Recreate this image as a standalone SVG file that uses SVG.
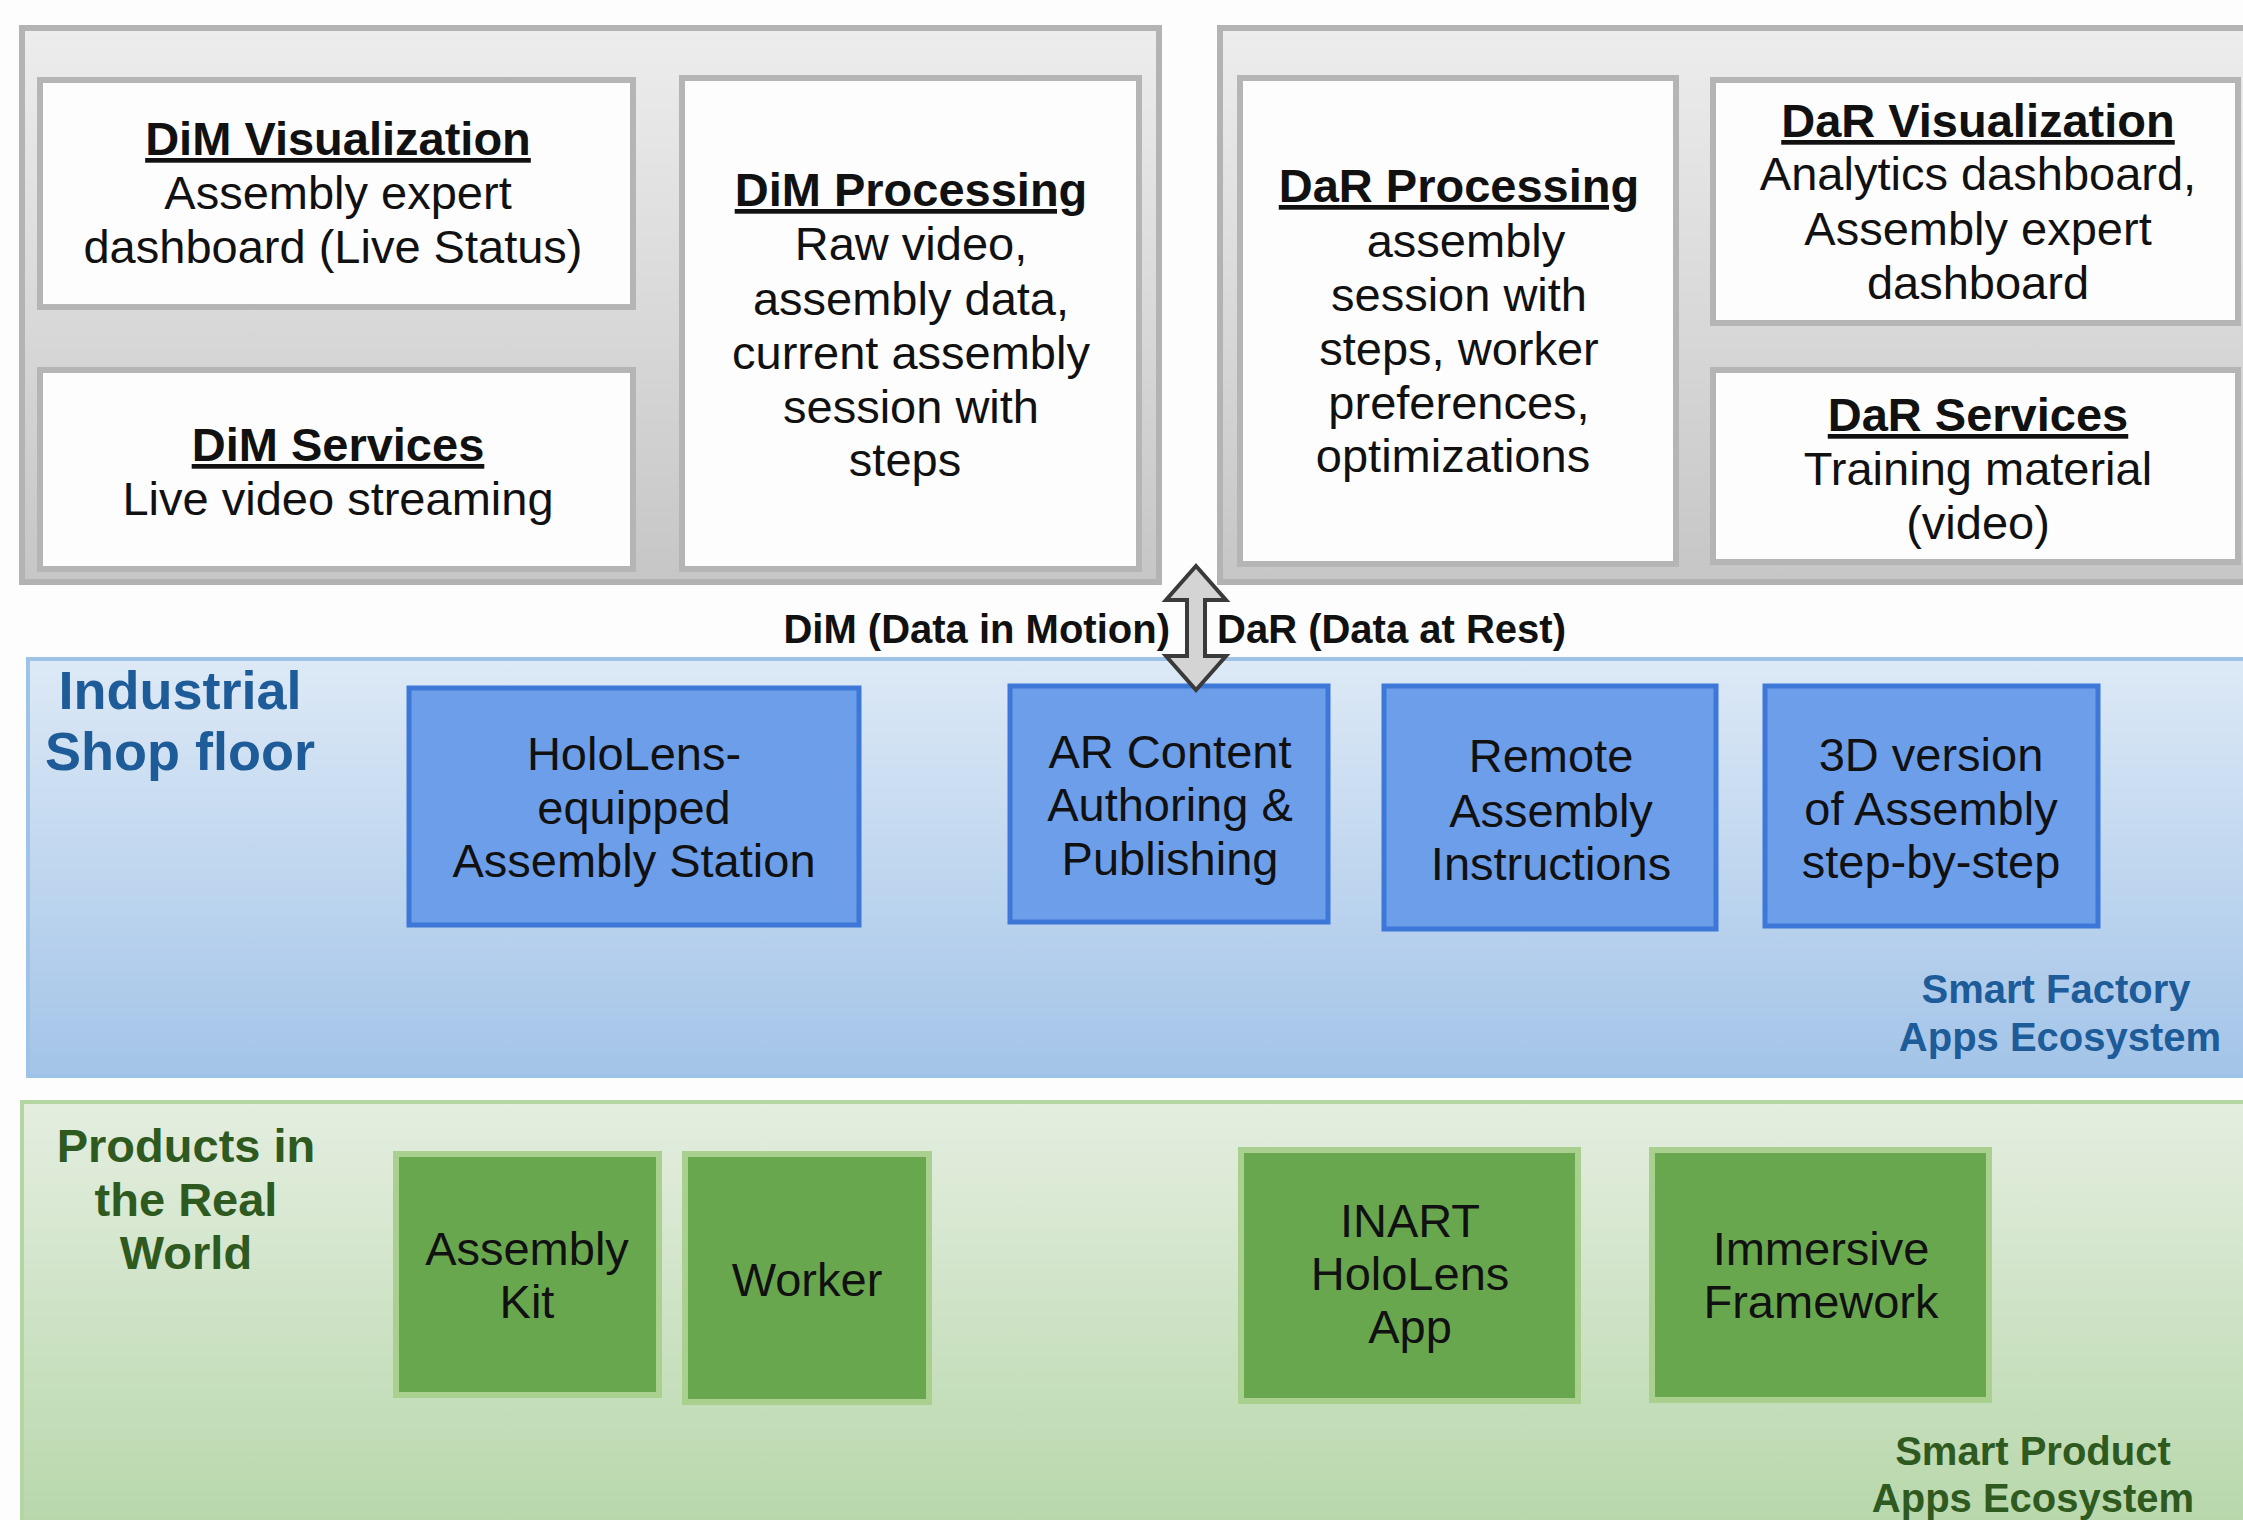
<svg xmlns="http://www.w3.org/2000/svg" width="2243" height="1520" viewBox="0 0 2243 1520">
<defs>
<linearGradient id="gGray" x1="0" y1="0" x2="0" y2="1"><stop offset="0" stop-color="#ededed"/><stop offset="1" stop-color="#c6c6c6"/></linearGradient>
<linearGradient id="gBlue" x1="0" y1="0" x2="0" y2="1"><stop offset="0" stop-color="#dde9f6"/><stop offset="1" stop-color="#a3c4e8"/></linearGradient>
<linearGradient id="gGreen" x1="0" y1="0" x2="0" y2="1"><stop offset="0" stop-color="#e4eee0"/><stop offset="1" stop-color="#b7d7aa"/></linearGradient>
</defs>
<style>
.panel{fill:url(#gGray);stroke:#b3b3b3;stroke-width:6}
.wbox{fill:#fdfdfd;stroke:#b5b5b5;stroke-width:6}
.bbox{fill:#6d9eea;stroke:#3d78d8;stroke-width:5}
.gbox{fill:#69a74f;stroke:#a9d08e;stroke-width:6}
text{font-family:"Liberation Sans",Arial,sans-serif;text-anchor:middle;fill:#111}
.t{font-size:47px}
.h{font-size:47px;font-weight:bold;text-decoration:underline}
.lbl{font-size:40px;font-weight:bold}
.blue{fill:#1d5b99;font-weight:bold}
.green{fill:#2f5a1f;font-weight:bold}
</style>
<rect x="0" y="0" width="2243" height="1520" fill="#fdfdfd"/>
<g id="dim-layer">
<rect class="panel" x="22" y="28" width="1137" height="554"/>
</g>
<g id="dar-layer">
<rect class="panel" x="1220" y="28" width="1040" height="554"/>
</g>
<g id="dim-visualization">
<rect class="wbox" x="40" y="80" width="593" height="227"/>
<text class="h" x="338" y="155">DiM Visualization</text>
<text class="t" x="338" y="209">Assembly expert</text>
<text class="t" x="333" y="263">dashboard (Live Status)</text>
</g>
<g id="dim-services">
<rect class="wbox" x="40" y="370" width="593" height="199"/>
<text class="h" x="338" y="461">DiM Services</text>
<text class="t" x="338" y="515">Live video streaming</text>
</g>
<g id="dim-processing">
<rect class="wbox" x="682" y="78" width="457" height="491"/>
<text class="h" x="911" y="206">DiM Processing</text>
<text class="t" x="911" y="260">Raw video,</text>
<text class="t" x="911" y="315">assembly data,</text>
<text class="t" x="911" y="369">current assembly</text>
<text class="t" x="911" y="423">session with</text>
<text class="t" x="905" y="476">steps</text>
</g>
<g id="dar-processing">
<rect class="wbox" x="1240" y="78" width="436" height="486"/>
<text class="h" x="1459" y="202">DaR Processing</text>
<text class="t" x="1466" y="257">assembly</text>
<text class="t" x="1459" y="311">session with</text>
<text class="t" x="1459" y="365">steps, worker</text>
<text class="t" x="1459" y="419">preferences,</text>
<text class="t" x="1453" y="472">optimizations</text>
</g>
<g id="dar-visualization">
<rect class="wbox" x="1713" y="80" width="525" height="243"/>
<text class="h" x="1978" y="137">DaR Visualization</text>
<text class="t" x="1978" y="190">Analytics dashboard,</text>
<text class="t" x="1978" y="245">Assembly expert</text>
<text class="t" x="1978" y="299">dashboard</text>
</g>
<g id="dar-services">
<rect class="wbox" x="1713" y="370" width="525" height="192"/>
<text class="h" x="1978" y="431">DaR Services</text>
<text class="t" x="1978" y="485">Training material</text>
<text class="t" x="1978" y="539">(video)</text>
</g>
<g id="shop-floor">
<rect x="28" y="659" width="2230" height="417" fill="url(#gBlue)" stroke="#9ec3e6" stroke-width="4"/>
<text class="blue" x="180" y="709" font-size="54">Industrial</text>
<text class="blue" x="180" y="770" font-size="54">Shop floor</text>
<text class="blue" x="2056" y="1003" font-size="40">Smart Factory</text>
<text class="blue" x="2060" y="1051" font-size="40">Apps Ecosystem</text>
</g>
<g id="hololens-station">
<rect class="bbox" x="409" y="688" width="450" height="237"/>
<text class="t" x="634" y="770">HoloLens-</text>
<text class="t" x="634" y="824">equipped</text>
<text class="t" x="634" y="877">Assembly Station</text>
</g>
<g id="ar-content">
<rect class="bbox" x="1010" y="686" width="318" height="236"/>
<text class="t" x="1170" y="768">AR Content</text>
<text class="t" x="1170" y="821">Authoring &amp;</text>
<text class="t" x="1170" y="875">Publishing</text>
</g>
<g id="remote-assembly">
<rect class="bbox" x="1384" y="686" width="332" height="243"/>
<text class="t" x="1551" y="772">Remote</text>
<text class="t" x="1551" y="827">Assembly</text>
<text class="t" x="1551" y="880">Instructions</text>
</g>
<g id="3d-version">
<rect class="bbox" x="1765" y="686" width="333" height="240"/>
<text class="t" x="1931" y="771">3D version</text>
<text class="t" x="1931" y="825">of Assembly</text>
<text class="t" x="1931" y="878">step-by-step</text>
</g>
<g id="real-world">
<rect x="22" y="1102" width="2236" height="430" fill="url(#gGreen)" stroke="#b3d6a3" stroke-width="4"/>
<text class="green" x="186" y="1162" font-size="47">Products in</text>
<text class="green" x="186" y="1216" font-size="47">the Real</text>
<text class="green" x="186" y="1269" font-size="47">World</text>
<text class="green" x="2033" y="1465" font-size="40">Smart Product</text>
<text class="green" x="2033" y="1512" font-size="40">Apps Ecosystem</text>
</g>
<g id="assembly-kit">
<rect class="gbox" x="396" y="1154" width="263" height="241"/>
<text class="t" x="527" y="1265">Assembly</text>
<text class="t" x="527" y="1318">Kit</text>
</g>
<g id="worker">
<rect class="gbox" x="685" y="1154" width="244" height="248"/>
<text class="t" x="807" y="1296">Worker</text>
</g>
<g id="inart-app">
<rect class="gbox" x="1241" y="1150" width="337" height="251"/>
<text class="t" x="1410" y="1237">INART</text>
<text class="t" x="1410" y="1290">HoloLens</text>
<text class="t" x="1410" y="1343">App</text>
</g>
<g id="immersive-framework">
<rect class="gbox" x="1652" y="1150" width="337" height="250"/>
<text class="t" x="1821" y="1265">Immersive</text>
<text class="t" x="1821" y="1318">Framework</text>
</g>
<g id="connectors">
<polygon points="1196,566 1226,600 1205,600 1205,656 1226,656 1196,690 1166,656 1187,656 1187,600 1166,600" fill="#d4d4d4" stroke="#3a3a3a" stroke-width="4" stroke-linejoin="miter"/>
<text class="lbl" x="1170" y="643" style="text-anchor:end">DiM (Data in Motion)</text>
<text class="lbl" x="1217" y="643" style="text-anchor:start">DaR (Data at Rest)</text>
</g>
</svg>
